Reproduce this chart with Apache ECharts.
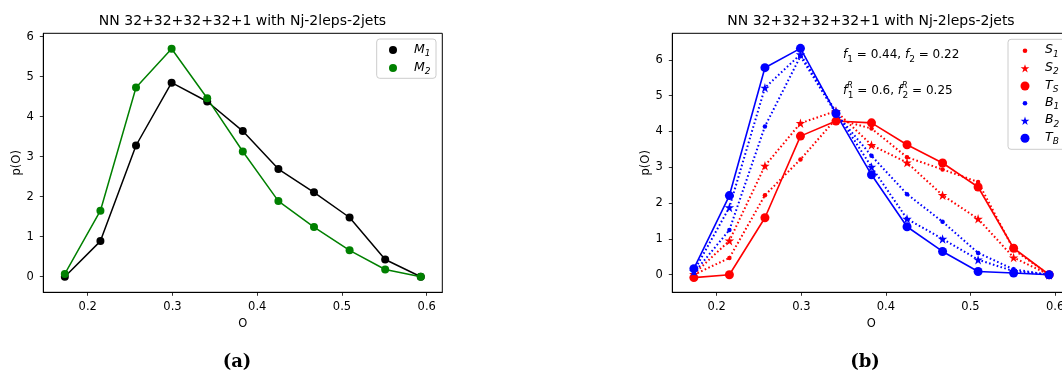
<!DOCTYPE html>
<html><head><meta charset="utf-8">
<script src="https://cdn.jsdelivr.net/npm/echarts@6/dist/echarts.min.js"></script>
<style>html,body{margin:0;padding:0;background:#fff}#c{width:1062px;height:372px}</style>
</head><body><div id="c"></div>
<script>
// ---- data ----
const xs = [0.173, 0.215, 0.257, 0.299, 0.341, 0.383, 0.425, 0.467, 0.509, 0.551, 0.593];
const M1 = [0.0, 0.89, 3.28, 4.85, 4.38, 3.64, 2.69, 2.11, 1.48, 0.43, 0.0];
const M2 = [0.07, 1.65, 4.73, 5.70, 4.46, 3.13, 1.89, 1.24, 0.66, 0.18, 0.0];
const S1 = [0.0, 0.47, 2.22, 3.22, 4.35, 4.08, 3.28, 2.94, 2.59, 0.70, 0.0];
const S2 = [0.02, 0.95, 3.04, 4.23, 4.57, 3.62, 3.13, 2.22, 1.56, 0.48, 0.0];
const TS = [-0.08, 0.0, 1.59, 3.87, 4.29, 4.24, 3.63, 3.12, 2.45, 0.74, 0.0];
const B1 = [0.05, 1.25, 4.14, 6.10, 4.50, 3.32, 2.25, 1.48, 0.61, 0.15, 0.0];
const B2 = [0.10, 1.88, 5.22, 6.15, 4.55, 3.01, 1.56, 1.00, 0.42, 0.10, 0.0];
const TB = [0.17, 2.21, 5.78, 6.32, 4.50, 2.79, 1.34, 0.65, 0.09, 0.05, 0.0];
const xTicks = [0.2, 0.3, 0.4, 0.5, 0.6];
const yTicks = [0, 1, 2, 3, 4, 5, 6];
const titleText = 'NN 32+32+32+32+1 with Nj-2leps-2jets';

// ---- helpers ----
const FONT = 'DejaVu Sans';
const FS = 11.5;
const STAR = 'path://M100 0 L122.45 69.1 L195.1 69.1 L136.3 111.8 L158.8 180.9 L100 138.2 L41.2 180.9 L63.7 111.8 L4.9 69.1 L77.55 69.1 Z';
const pts = ys => xs.map((x, i) => [x, ys[i]]);

function xAxisCfg(gi, min, max) {
  return {
    type: 'value', gridIndex: gi, min: min, max: max,
    name: 'O', nameLocation: 'middle', nameGap: 23,
    nameTextStyle: {fontSize: FS, color: '#000', fontFamily: FONT},
    axisLine: {show: true, onZero: false, lineStyle: {color: '#000', width: 1}},
    axisTick: {show: true, length: 3.5, inside: false, customValues: xTicks, lineStyle: {color: '#000', width: 0.8}},
    axisLabel: {customValues: xTicks, formatter: v => v.toFixed(1), fontSize: FS, color: '#000', margin: 8.5, fontFamily: FONT},
    splitLine: {show: false}
  };
}
function yAxisCfg(gi, min, max) {
  return {
    type: 'value', gridIndex: gi, min: min, max: max,
    name: 'p(O)', nameLocation: 'middle', nameGap: 19, nameRotate: 90,
    nameTextStyle: {fontSize: FS, color: '#000', fontFamily: FONT},
    axisLine: {show: true, onZero: false, lineStyle: {color: '#000', width: 1}},
    axisTick: {show: true, length: 3.5, inside: false, customValues: yTicks, lineStyle: {color: '#000', width: 0.8}},
    axisLabel: {customValues: yTicks, formatter: v => String(v), fontSize: FS, color: '#000', margin: 9.5, fontFamily: FONT},
    splitLine: {show: false}
  };
}
function ser(name, ys, gi, color, symbol, size, lineType, lw) {
  return {
    name: name, type: 'line', xAxisIndex: gi, yAxisIndex: gi,
    data: pts(ys), symbol: symbol, symbolSize: size, showSymbol: true,
    itemStyle: {color: color},
    lineStyle: {color: color, width: lw, type: lineType},
    emphasis: {disabled: true}, animation: false, clip: false
  };
}
const DOT = [1.6, 2.4];

// legend helpers (graphic)
function legendBox(x, y, w, h) {
  return {type: 'rect', shape: {x: x, y: y, width: w, height: h, r: 3},
    style: {fill: 'rgba(255,255,255,0.8)', stroke: '#cccccc', lineWidth: 1}, z: 100};
}
function starPoints(cx, cy, r) {
  const out = [];
  for (let k = 0; k < 10; k++) {
    const a = (-90 + k * 36) * Math.PI / 180;
    const rr = (k % 2 === 0) ? r : r * 0.382;
    out.push([cx + rr * Math.cos(a), cy + rr * Math.sin(a) + r * 0.1]);
  }
  return out;
}
function legendMarker(kind, cx, cy, color, r) {
  if (kind === 'circle') {
    return {type: 'circle', shape: {cx: cx, cy: cy, r: r}, style: {fill: color}, z: 101};
  }
  return {type: 'polygon', shape: {points: starPoints(cx, cy, r)}, style: {fill: color}, z: 101};
}
const legRich = {
  i: {fontStyle: 'italic', fontSize: 12.5, fontFamily: FONT, color: '#000', lineHeight: 17, verticalAlign: 'middle'},
  s: {fontStyle: 'italic', fontSize: 9, fontFamily: FONT, color: '#000', verticalAlign: 'bottom', lineHeight: 17}
};
function legendText(x, y, main, sub) {
  return {type: 'text', x: x, y: y, z: 101,
    style: {text: '{i|' + main + '}{s|' + sub + '}', rich: legRich, verticalAlign: 'middle', align: 'left'}};
}

const annRich = {
  f: {fontStyle: 'italic', fontSize: 12, fontFamily: FONT, color: '#000', lineHeight: 18, verticalAlign: 'middle'},
  n: {fontSize: 12, fontFamily: FONT, color: '#000', lineHeight: 18, verticalAlign: 'middle'},
  s: {fontSize: 9, fontFamily: FONT, color: '#000', verticalAlign: 'bottom', lineHeight: 17},
  p: {fontSize: 8, fontStyle: 'italic', fontFamily: FONT, color: '#000', verticalAlign: 'top', lineHeight: 18, width: 0.5}
};

const gridBase = {show: true, borderColor: '#000', borderWidth: 1, backgroundColor: 'transparent', containLabel: false, outerBoundsMode: 'none'};

const option = {
  backgroundColor: '#ffffff',
  animation: false,
  grid: [
    Object.assign({left: 43.3, top: 33.3, width: 399, height: 259}, gridBase),
    Object.assign({left: 672.3, top: 33.3, width: 398, height: 259}, gridBase)
  ],
  xAxis: [xAxisCfg(0, 0.1476, 0.6184), xAxisCfg(1, 0.1475, 0.618)],
  yAxis: [yAxisCfg(0, -0.39, 6.085), yAxisCfg(1, -0.49, 6.74)],
  series: [
    ser('M1', M1, 0, '#000000', 'circle', 8, 'solid', 1.5),
    ser('M2', M2, 0, '#008000', 'circle', 8, 'solid', 1.5),
    ser('S1', S1, 1, '#ff0000', 'circle', 4.5, DOT, 2),
    ser('S2', S2, 1, '#ff0000', STAR, 9.5, DOT, 2),
    ser('TS', TS, 1, '#ff0000', 'circle', 9, 'solid', 1.6),
    ser('B1', B1, 1, '#0000ff', 'circle', 4.5, DOT, 2),
    ser('B2', B2, 1, '#0000ff', STAR, 9.5, DOT, 2),
    ser('TB', TB, 1, '#0000ff', 'circle', 9, 'solid', 1.6)
  ],
  graphic: [
    {type: 'text', x: 242.5, y: 21, style: {text: titleText, font: '14px "DejaVu Sans"', fill: '#000', align: 'center', verticalAlign: 'middle'}},
    {type: 'text', x: 871, y: 21, style: {text: titleText, font: '14px "DejaVu Sans"', fill: '#000', align: 'center', verticalAlign: 'middle'}},
    {type: 'text', x: 237, y: 362, style: {text: '(a)', font: 'bold 18px "DejaVu Serif"', fill: '#000', align: 'center', verticalAlign: 'middle'}},
    {type: 'text', x: 865, y: 362, style: {text: '(b)', font: 'bold 18px "DejaVu Serif"', fill: '#000', align: 'center', verticalAlign: 'middle'}},
    {type: 'text', x: 843, y: 55, z: 50, style: {text: '{f|f}{s|1}{n| = 0.44, }{f|f}{s|2}{n| = 0.22}', rich: annRich, verticalAlign: 'middle', align: 'left'}},
    {type: 'text', x: 843, y: 91, z: 50, style: {text: '{f|f}{p|R}{s|1}{n| = 0.6, }{f|f}{p|R}{s|2}{n| = 0.25}', rich: annRich, verticalAlign: 'middle', align: 'left'}},
    legendBox(376.7, 39, 59.3, 39.3),
    legendMarker('circle', 393, 50, '#000000', 4),
    legendText(414, 49.5, 'M', '1'),
    legendMarker('circle', 393, 68, '#008000', 4),
    legendText(414, 67.5, 'M', '2'),
    legendBox(1008, 39.3, 70, 110),
    legendMarker('circle', 1025, 50.7, '#ff0000', 2.3),
    legendText(1045, 50.2, 'S', '1'),
    legendMarker('star', 1025, 68.3, '#ff0000', 4.6),
    legendText(1045, 67.8, 'S', '2'),
    legendMarker('circle', 1025, 86, '#ff0000', 4.5),
    legendText(1045, 85.5, 'T', 'S'),
    legendMarker('circle', 1025, 103.3, '#0000ff', 2.3),
    legendText(1045, 102.8, 'B', '1'),
    legendMarker('star', 1025, 120.7, '#0000ff', 4.6),
    legendText(1045, 120.2, 'B', '2'),
    legendMarker('circle', 1025, 138.3, '#0000ff', 4.5),
    legendText(1045, 137.8, 'T', 'B')
  ]
};

const chart = echarts.init(document.getElementById('c'), null, {renderer: 'canvas'});
chart.setOption(option);
</script>
</body></html>
